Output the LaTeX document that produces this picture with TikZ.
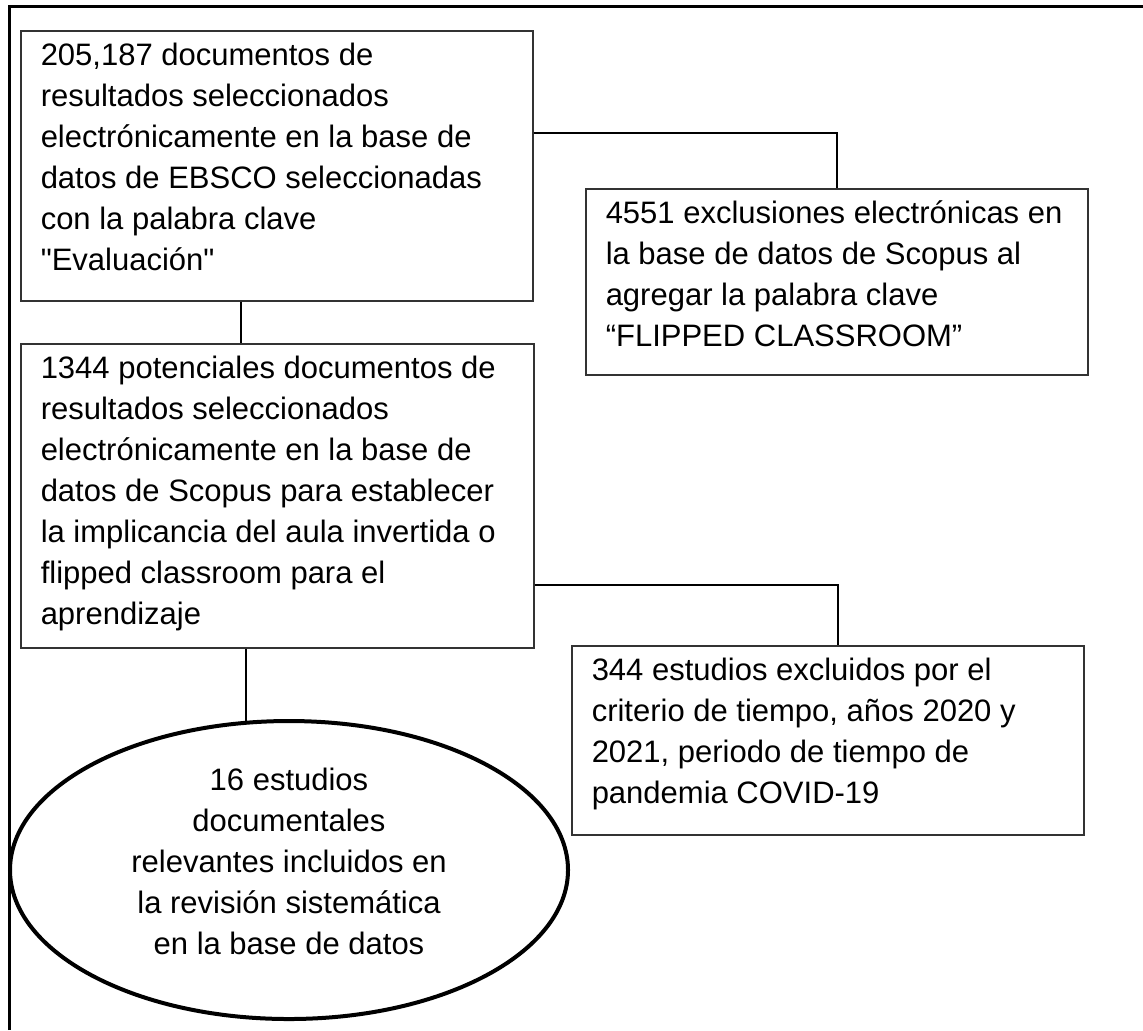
\documentclass[tikz,border=0pt]{standalone}
\usepackage{fontspec}
\setmainfont{Liberation Sans}[Ligatures=TeXOff]
\usetikzlibrary{shapes.geometric,calc}
\newcommand{\boxtext}[3]{\parbox[c][#2][t]{#1}{\raggedright #3}}

\begin{document}
\begin{tikzpicture}[x=.5pt,y=-.5pt,
  box/.style={draw=black!80,line width=.75pt,anchor=north west,inner xsep=10pt,inner ysep=6pt,font=\fontsize{15.5}{20.5}\selectfont},
  link/.style={line width=1pt}]
 \useasboundingbox (0,0) rectangle (1143,1030);
 \draw[line width=1.5pt] (9,1030)--(9,6)--(1143,6);
 \node[box] (srch) at (20,30) {\boxtext{236pt}{123pt}{205,187 documentos de\\resultados seleccionados\\electrónicamente en la base de\\datos de EBSCO seleccionadas\\con la palabra clave\\"Evaluación"}};
 \node[box] (excl) at (585,188) {\boxtext{231pt}{81pt}{4551 exclusiones electrónicas en\\la base de datos de Scopus al\\agregar la palabra clave\\“FLIPPED CLASSROOM”}};
 \node[box] (pot) at (20,343) {\boxtext{236.5pt}{140pt}{1344 potenciales documentos de\\resultados seleccionados\\electrónicamente en la base de\\datos de Scopus para establecer\\la implicancia del aula invertida o\\flipped classroom para el\\aprendizaje}};
 \node[box] (tiempo) at (571,645) {\boxtext{236pt}{82.5pt}{344 estudios excluidos por el\\criterio de tiempo, años 2020 y\\2021, periodo de tiempo de\\pandemia COVID-19}};
 \node[draw,ellipse,line width=2pt,minimum width=279pt,minimum height=149pt,inner sep=0pt] (incl) at (289,870) {};
 \node[align=center,font=\fontsize{15.5}{20.5}\selectfont] (incltxt) at ([yshift=4.5pt]incl.center) {16 estudios\\documentales\\relevantes incluidos en\\la revisión sistemática\\en la base de datos};
 \draw[link] ([yshift=16.5pt]srch.east) -| (excl.north);
 \draw[link] ([xshift=-18pt]srch.south) -- ([xshift=-18pt]srch.south |- pot.north);
 \draw[link] ([yshift=-44.5pt]pot.east) -| ([xshift=5pt]tiempo.north);
 \draw[link] (pot.south -| incl.106) -- (incl.106);
\end{tikzpicture}
\end{document}
